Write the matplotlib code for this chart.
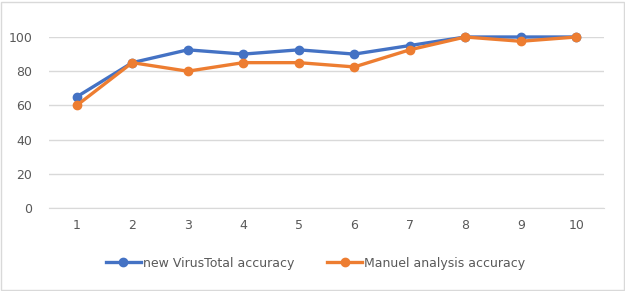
import numpy as np
import matplotlib.pyplot as plt
from matplotlib.patches import Rectangle

# chart data
runs = [1, 2, 3, 4, 5, 6, 7, 8, 9, 10]
virustotal_acc = [65, 85, 92.5, 90, 92.5, 90, 95, 100, 100, 100]
manual_acc = [60, 85, 80, 85, 85, 82.5, 92.5, 100, 97.5, 100]

fig = plt.figure(figsize=(6.25, 2.91), dpi=100)
ax = fig.add_axes([49/625, 1 - 208/291, 555/625, 171/291])

x = np.arange(len(runs))
ax.plot(x, virustotal_acc, color='#4472C4', lw=2.4, marker='o', ms=6,
        label='new VirusTotal accuracy', clip_on=False, zorder=3)
ax.plot(x, manual_acc, color='#ED7D31', lw=2.4, marker='o', ms=6,
        label='Manuel analysis accuracy', clip_on=False, zorder=4)

ax.set_xlim(-0.5, len(runs) - 0.5)
ax.set_ylim(0, 100)
ax.set_yticks(np.arange(0, 101, 20))
ax.set_xticks(x)
ax.set_xticklabels([str(r) for r in runs])
ax.grid(axis='y', color='#D9D9D9', lw=1)
ax.set_axisbelow(True)
for s in ['top', 'right', 'left']:
    ax.spines[s].set_visible(False)
ax.spines['bottom'].set_color('#D9D9D9')
ax.tick_params(length=0, labelsize=9, labelcolor='#595959', pad=8)
ax.tick_params(axis='y', pad=12)

fig.legend(loc='center', bbox_to_anchor=(0.505, 1 - 263/291), ncol=2,
           frameon=False, fontsize=9, labelcolor='#595959',
           handlelength=2.8, columnspacing=2.6, handletextpad=0.2)

# chart border
fig.patches.append(Rectangle((1/625, 1/291), 1 - 2.5/625, 1 - 2.5/291,
                             transform=fig.transFigure, fill=False,
                             edgecolor='#D9D9D9', lw=1))

fig.savefig('out.png', dpi=100)
